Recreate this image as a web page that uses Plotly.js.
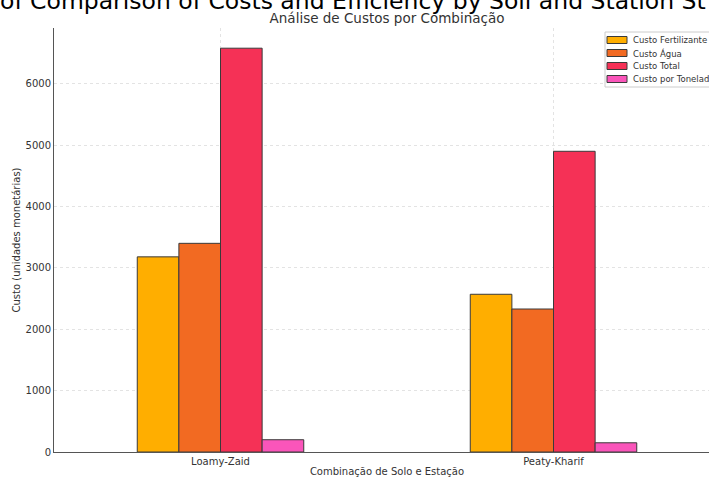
<!DOCTYPE html>
<html>
<head>
<meta charset="utf-8">
<script src="https://cdn.plot.ly/plotly-3.0.1.min.js"></script>
<style>
html,body{margin:0;padding:0;overflow:hidden;background:#fff;width:709px;height:477px;}
#chart{width:720px;height:477px;}
</style>
</head>
<body>
<div id="chart"></div>
<script>
const categories = ["Loamy-Zaid", "Peaty-Kharif"];
const seriesNames = ["Custo Fertilizante", "Custo Água", "Custo Total", "Custo por Tonelada"];
const custoFertilizante = [3180, 2570];
const custoAgua = [3400, 2330];
const custoTotal = [6580, 4900];
const custoPorTonelada = [200, 150];
const seriesValues = [custoFertilizante, custoAgua, custoTotal, custoPorTonelada];
const colors = ["#FFAE00", "#F26A22", "#F53156", "#FA55BA"];

const font = "DejaVu Sans, sans-serif";

// plot-area geometry (pixels) used for paper-coordinate placement
const L = 54, T = 28, W = 666, H = 424, FH = 477;
const px2x = px => (px - L) / W;
const py2y = py => (T + H - py) / H;

const traces = seriesValues.map((vals, i) => ({
  type: "bar",
  name: seriesNames[i],
  x: categories,
  y: vals,
  marker: {color: colors[i], line: {color: "#3a3a3a", width: 1}},
  hoverinfo: "skip",
  showlegend: false
}));

// custom compact legend (matplotlib style)
const shapes = [{
  type: "rect", xref: "paper", yref: "paper",
  x0: px2x(605), x1: px2x(740), y0: py2y(87), y1: py2y(32),
  line: {color: "#cccccc", width: 1}, fillcolor: "rgba(255,255,255,0.9)", layer: "above"
}];
const annotations = [];
const entryY = [40, 53, 66, 79];
seriesNames.forEach((name, i) => {
  shapes.push({
    type: "rect", xref: "paper", yref: "paper",
    x0: px2x(607), x1: px2x(627), y0: py2y(entryY[i] + 3.5), y1: py2y(entryY[i] - 3.5),
    line: {color: "#3a3a3a", width: 1}, fillcolor: colors[i], layer: "above"
  });
  annotations.push({
    text: name, xref: "paper", yref: "paper",
    x: px2x(631), xanchor: "left", y: py2y(entryY[i]), yanchor: "middle",
    showarrow: false, font: {family: font, size: 8.5, color: "#333"}
  });
});

annotations.push({
  text: "of Comparison of Costs and Efficiency by Soil and Station St",
  xref: "paper", yref: "paper",
  x: px2x(-2), xanchor: "left",
  y: py2y(17), yanchor: "bottom",
  showarrow: false,
  font: {family: font, size: 23.5, color: "#000"}
});

const layout = {
  width: 720,
  height: FH,
  margin: {l: L, r: 720 - L - W, t: T, b: FH - T - H},
  paper_bgcolor: "#fff",
  plot_bgcolor: "#fff",
  barmode: "group",
  bargap: 0.5,
  bargroupgap: 0,
  showlegend: false,
  font: {family: font, size: 10, color: "#333"},
  title: {
    text: "Análise de Custos por Combinação",
    font: {family: font, size: 13.5, color: "#333"},
    x: 0.5, xanchor: "center", xref: "paper",
    y: 1 - 18.5 / FH, yref: "container", yanchor: "middle"
  },
  xaxis: {
    type: "category",
    range: [-0.5, 1.5],
    showline: true, linecolor: "#555", linewidth: 1,
    showgrid: true, gridcolor: "#e3e3e3", griddash: "dot", gridwidth: 1,
    ticks: "", tickfont: {family: font, size: 10, color: "#333"},
    title: {text: "Combinação de Solo e Estação", font: {family: font, size: 10, color: "#333"}, standoff: 2},
    automargin: false, zeroline: false
  },
  yaxis: {
    range: [0, 6909],
    tickvals: [0, 1000, 2000, 3000, 4000, 5000, 6000],
    showline: true, linecolor: "#555", linewidth: 1,
    showgrid: true, gridcolor: "#e3e3e3", griddash: "dot", gridwidth: 1,
    ticks: "", tickfont: {family: font, size: 10, color: "#333"},
    title: {text: "Custo (unidades monetárias)", font: {family: font, size: 10, color: "#333"}, standoff: 3},
    automargin: false, zeroline: false
  },
  shapes: shapes,
  annotations: annotations
};

Plotly.newPlot("chart", traces, layout, {displayModeBar: false, staticPlot: true});
</script>
</body>
</html>
